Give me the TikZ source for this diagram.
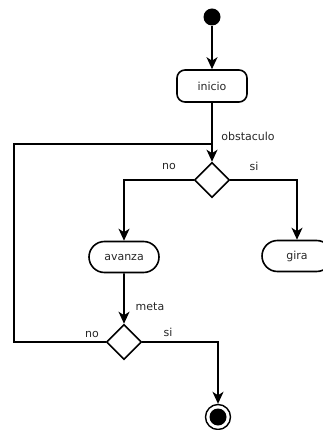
\documentclass[tikz,border=0pt]{standalone}
\usepackage{fontspec}
\setmainfont{DejaVu Sans}
\usetikzlibrary{shapes.geometric,shapes.misc,arrows.meta}
\begin{document}
\begin{tikzpicture}[x=1pt,y=-1pt,
  line width=1.6pt,
  font=\fontsize{11}{13}\selectfont,
  flow/.style={-{Stealth[length=12pt,width=11pt,inset=3.5pt]}},
  action/.style={draw,rounded corners=8pt,minimum width=70pt,minimum height=32pt,inner sep=0pt,text=black!85},
  pill/.style={draw,rounded rectangle,minimum width=70pt,minimum height=31pt,inner sep=0pt,text=black!85},
  choice/.style={draw,diamond,minimum width=35pt,minimum height=35pt,inner sep=0pt},
  guard/.style={text=black!85,inner sep=0pt}]
\useasboundingbox (0,0) rectangle (323,430);

% initial and final states
\node[circle,fill=black,minimum size=17pt,inner sep=0pt] (start) at (212,17) {};
\node[circle,draw,line width=1.4pt,minimum size=25pt,inner sep=0pt] (end) at (218,417) {};
\node[circle,fill=black,minimum size=17pt,inner sep=0pt] (endcore) at (end.center) {};

% actions
\node[action] (inicio) at (212,86) {inicio};
\node[pill] (avanza) at (124,257) {avanza};
\node[pill] (gira) at (297,256) {gira};

% decisions
\node[choice] (d1) at (212,180) {};
\node[choice] (d2) at (124,342) {};

% merge point of the loop
\coordinate (join) at (212,144);
\coordinate (loopbot) at (14,342);
\coordinate (looptop) at (14,144);

% connectors
\draw[flow] (start) -- (inicio);
\draw[flow] (inicio) -- (d1);
\draw (d2.west) -- (loopbot) -- (looptop) -- (join);
\draw[flow] (d1.west) -| (avanza.north);
\draw[flow] (d1.east) -| (gira.north);
\draw[flow] (avanza) -- (d2);
\draw[flow] (d2.east) -| (end.north);

% guards
\node[guard] (lobs) at (248,136) {obstaculo};
\node[guard] (lno1) at (169,166) {no};
\node[guard] (lsi1) at (254,166) {si};
\node[guard] (lmeta) at (150,307) {meta};
\node[guard] (lno2) at (92,334) {no};
\node[guard] (lsi2) at (168,332) {si};
\end{tikzpicture}
\end{document}
